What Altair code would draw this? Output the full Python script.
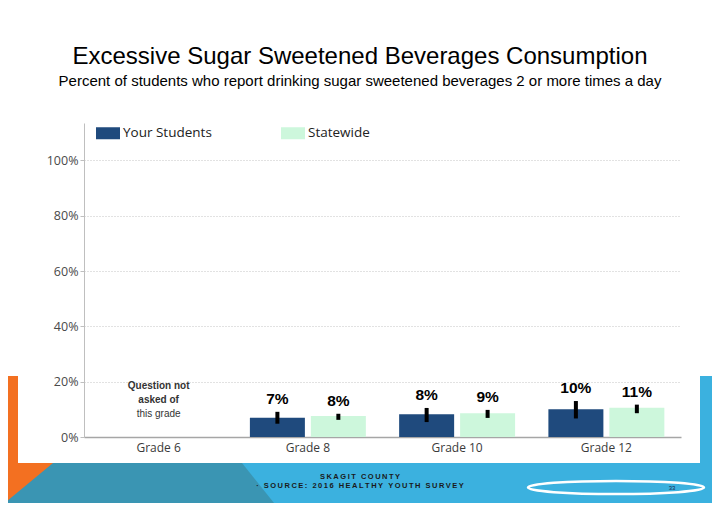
import altair as alt
import pandas as pd

# ---- data ----
grades = ["Grade 6", "Grade 8", "Grade 10", "Grade 12"]
groups = ["Your Students", "Statewide"]
bar_grade = ["Grade 8", "Grade 8", "Grade 10", "Grade 10", "Grade 12", "Grade 12"]
bar_group = ["Your Students", "Statewide", "Your Students", "Statewide", "Your Students", "Statewide"]
values = [0.070, 0.076, 0.082, 0.086, 0.100, 0.106]
err_low = [0.048, 0.062, 0.054, 0.069, 0.067, 0.086]
err_high = [0.091, 0.084, 0.105, 0.098, 0.130, 0.117]
labels = ["7%", "8%", "8%", "9%", "10%", "11%"]
y_ticks = [0, 0.2, 0.4, 0.6, 0.8, 1.0]
colors = ["#1F4A7D", "#CDF7DC"]

title_text = "Excessive Sugar Sweetened Beverages Consumption"
subtitle_text = "Percent of students who report drinking sugar sweetened beverages 2 or more times a day"
note_grade = "Grade 6"
note_bold = "Question not\nasked of"
note_plain = "this grade"
footer_1 = "SKAGIT COUNTY"
footer_2 = "\u00b7 SOURCE: 2016 HEALTHY YOUTH SURVEY"
page_no = "33"


def spaced(s):
    return "\u2009".join(s)


df = pd.DataFrame({"grade": bar_grade, "group": bar_group, "value": values,
                   "lo": err_low, "hi": err_high, "label": labels})
one = alt.Data(values=[{"k": 0}])

x_enc = alt.X("grade:N",
              scale=alt.Scale(domain=grades, paddingInner=0.223, paddingOuter=0.1115),
              axis=alt.Axis(title=None, labelAngle=0, ticks=False, labelPadding=5,
                            labelFontSize=12, labelColor="#3A3A3A", labelFont="Open Sans",
                            domainColor="#A6A6A6", domainWidth=1.5, grid=False))
xo_enc = alt.XOffset("group:N", scale=alt.Scale(domain=groups, paddingInner=0.098, paddingOuter=0))

base = alt.Chart(df)

bars = base.mark_bar().encode(
    x=x_enc,
    xOffset=xo_enc,
    y=alt.Y("value:Q", scale=alt.Scale(domain=[0, 1.135], nice=False, zero=True),
            axis=alt.Axis(values=y_ticks, format=".0%", title=None, domainColor="#BFBFBF",
                          tickColor="#BFBFBF", tickSize=4, labelPadding=2, labelFontSize=12.5,
                          labelColor="#4A4A4A", labelFont="Open Sans", gridColor="#C4C4C4",
                          gridDash=[1, 2])),
    color=alt.Color("group:N", scale=alt.Scale(domain=groups, range=colors),
                    legend=alt.Legend(title=None, orient="none", legendX=12, legendY=-2,
                                      direction="horizontal",
                                      symbolType="M-1,-0.5L1,-0.5L1,0.5L-1,0.5Z",
                                      symbolSize=576, symbolStrokeWidth=0,
                                      labelFontSize=13.5, labelFont="Open Sans",
                                      labelColor="#222222", labelOffset=3,
                                      columnPadding=69, padding=0)),
)

rules = base.mark_rule(color="black", strokeWidth=4).encode(
    x="grade:N", xOffset="group:N", y="lo:Q", y2="hi:Q")

value_text = base.mark_text(fontSize=15.5, fontWeight="bold", font="Liberation Sans",
                            baseline="alphabetic", dy=-8, color="black").encode(
    x="grade:N", xOffset="group:N", y="hi:Q", text="label:N")

note_df = pd.DataFrame({"grade": [note_grade], "a": [note_bold], "b": [note_plain]})
note_a = alt.Chart(note_df).mark_text(fontSize=10, fontWeight="bold", font="Liberation Sans",
                                      baseline="top", lineBreak="\n", lineHeight=14,
                                      color="#333333").encode(
    x="grade:N", y=alt.value(257.5), text="a:N")
note_b = alt.Chart(note_df).mark_text(fontSize=10, font="Liberation Sans", baseline="top",
                                      color="#333333").encode(
    x="grade:N", y=alt.value(285.5), text="b:N")

# ---- slide decoration (pixel paths relative to the plot origin) ----
def deco(path, col):
    return alt.Chart(one).mark_point(shape=path, size=4, filled=True, color=col,
                                     opacity=1, strokeWidth=0).encode(
        x=alt.value(0), y=alt.value(0))

blue = deco("M616,253L640,253L640,390L-90,390L-90,340L616,340Z", "#3BB1DF")
teal = deco("M-90,340L158,340L198,390L-90,390Z", "#3A95B3")
orange = deco("M-90,253L-66,253L-66,340L-31,340L-84,384L-90,384Z", "#F37021")

ellipse = alt.Chart(one).mark_point(
    shape="M-1,0 A1,0.075 0 1,1 1,0 A1,0.075 0 1,1 -1,0 Z", size=176 ** 2,
    filled=False, stroke="white", strokeWidth=2.5, opacity=1).encode(
    x=alt.value(532), y=alt.value(364.5))

txt_df = pd.DataFrame({"t": [title_text], "s": [subtitle_text],
                       "f1": [spaced(footer_1)], "f2": [spaced(footer_2)], "p": [page_no]})
title = alt.Chart(txt_df).mark_text(fontSize=24, font="Liberation Sans", color="black",
                                    baseline="middle").encode(
    x=alt.value(276), y=alt.value(-66), text="t:N")
subtitle = alt.Chart(txt_df).mark_text(fontSize=15, font="Liberation Sans", color="black",
                                       baseline="middle").encode(
    x=alt.value(276), y=alt.value(-42), text="s:N")
foot1 = alt.Chart(txt_df).mark_text(fontSize=7.5, fontWeight="bold", font="Liberation Sans",
                                    color="#1A1A1A", baseline="middle").encode(
    x=alt.value(276), y=alt.value(354), text="f1:N")
foot2 = alt.Chart(txt_df).mark_text(fontSize=7.5, fontWeight="bold", font="Liberation Sans",
                                    color="#1A1A1A", baseline="middle").encode(
    x=alt.value(276), y=alt.value(363), text="f2:N")
pnum = alt.Chart(txt_df).mark_text(fontSize=6, font="Liberation Sans", color="#1A2A50",
                                   baseline="middle").encode(
    x=alt.value(588), y=alt.value(365), text="p:N")

chart = alt.layer(
    blue, teal, orange, ellipse, title, subtitle, bars, rules, value_text,
    note_a, note_b, foot1, foot2, pnum
).properties(
    width=597, height=314,
    autosize=alt.AutoSizeParams(type="none"),
    padding={"left": 76, "top": 115, "right": 31, "bottom": 66},
    background="white",
).configure_view(stroke=None)

chart.save("out.html", embed_options={"renderer": "svg", "actions": False})
